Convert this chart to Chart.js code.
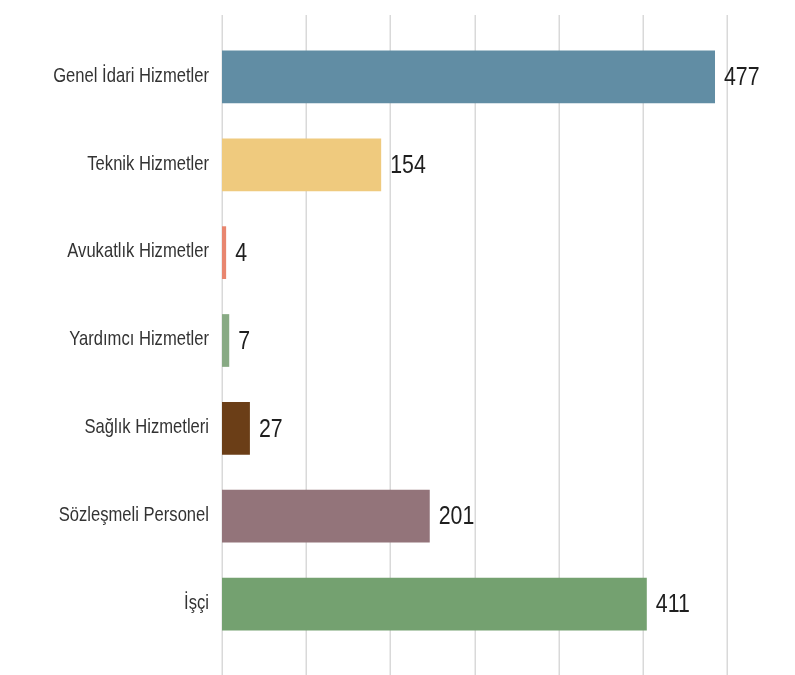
<!DOCTYPE html>
<html>
<head>
<meta charset="utf-8">
<script src="https://cdn.jsdelivr.net/npm/chart.js@4"></script>
<style>
html,body{margin:0;padding:0;background:#fff;}
#wrap{width:795px;height:675px;}
</style>
</head>
<body>
<div id="wrap"><canvas id="c" width="795" height="675"></canvas></div>
<script>
const categories = ["Genel İdari Hizmetler","Teknik Hizmetler","Avukatlık Hizmetler","Yardımcı Hizmetler","Sağlık Hizmetleri","Sözleşmeli Personel","İşçi"];
const values = [477,154,4,7,27,201,411];
const barColors = ["#618da4","#efca7e","#e8866f","#88aa84","#6b3e17","#93747a","#74a170"];
const axisMax = 488.6;

const FONT = "'Liberation Sans',Arial,Helvetica,sans-serif";

function drawNarrow(ctx, text, x, y, size, squeeze, align) {
  ctx.save();
  ctx.translate(x, y);
  ctx.scale(squeeze, 1);
  ctx.font = size + "px " + FONT;
  ctx.textAlign = align;
  ctx.textBaseline = 'middle';
  ctx.fillText(text, 0, 0);
  ctx.restore();
}

const gridPlugin = {
  id: 'fullGrid',
  beforeDatasetsDraw(chart) {
    const x = chart.scales.x;
    const ctx = chart.ctx;
    ctx.save();
    ctx.strokeStyle = '#d9d9d9';
    ctx.lineWidth = 1.5;
    x.ticks.forEach(t => {
      const px = Math.round(x.getPixelForValue(t.value)) + 0.25;
      ctx.beginPath();
      ctx.moveTo(px, 15);
      ctx.lineTo(px, chart.height);
      ctx.stroke();
    });
    ctx.restore();
  }
};

const labelPlugin = {
  id: 'narrowLabels',
  afterDatasetsDraw(chart) {
    const ctx = chart.ctx;
    const yScale = chart.scales.y;
    const meta = chart.getDatasetMeta(0);
    ctx.save();
    ctx.fillStyle = '#333';
    categories.forEach((c, i) => {
      const py = yScale.getPixelForTick(i);
      drawNarrow(ctx, c, yScale.right - 13, py - 1, 21, 0.79, 'right');
    });
    ctx.fillStyle = '#1e1e1e';
    meta.data.forEach((bar, i) => {
      drawNarrow(ctx, String(values[i]), bar.x + 9, bar.y + 1, 26, 0.82, 'left');
    });
    ctx.restore();
  }
};

new Chart(document.getElementById('c'), {
  type: 'bar',
  data: {
    labels: categories,
    datasets: [{
      data: values,
      backgroundColor: barColors,
      borderWidth: 0,
      barPercentage: 0.6,
      categoryPercentage: 1.0
    }]
  },
  options: {
    indexAxis: 'y',
    responsive: false,
    animation: false,
    layout: { padding: { top: 33, bottom: 19, left: 0, right: 68 } },
    plugins: { legend: { display: false }, tooltip: { enabled: false } },
    scales: {
      x: {
        min: 0,
        max: axisMax,
        ticks: { display: false, count: 7 },
        grid: { display: false },
        border: { display: false }
      },
      y: {
        ticks: { display: false },
        grid: { display: false, drawTicks: false },
        border: { display: false },
        afterFit(scale) { scale.width = 222; }
      }
    }
  },
  plugins: [gridPlugin, labelPlugin]
});
</script>
</body>
</html>
